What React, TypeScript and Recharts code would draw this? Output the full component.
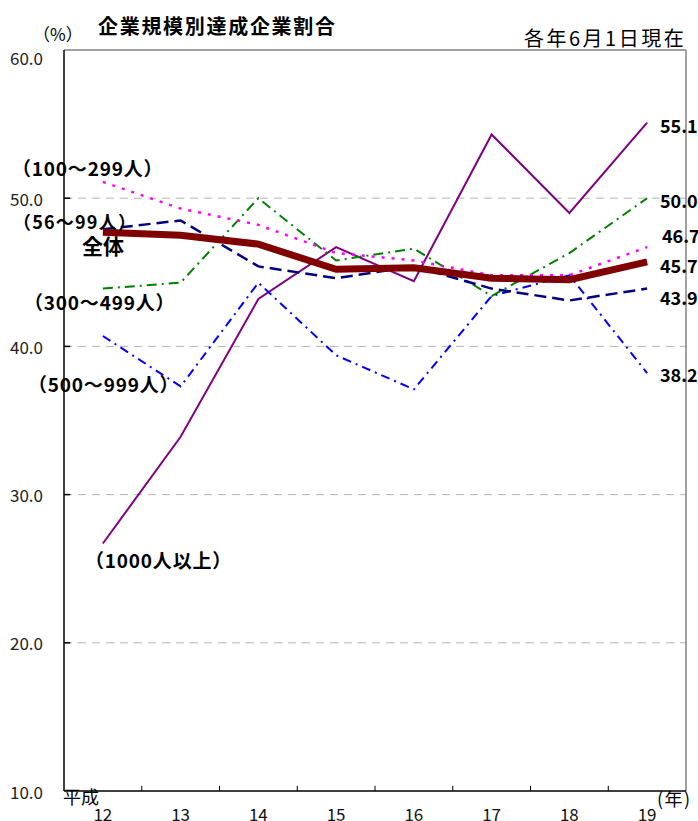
import * as React from "react";
import { LineChart, Line, XAxis, YAxis, ReferenceLine } from "recharts";

// 平成12〜19年
const YEARS = [12, 13, 14, 15, 16, 17, 18, 19];
const Y_TICKS = [10, 20, 30, 40, 50, 60];
const GRID_VALUES = [20, 30, 40, 50];
const BOUNDARY_TICKS = [12.5, 13.5, 14.5, 15.5, 16.5, 17.5, 18.5];

const TOTAL = [47.7, 47.5, 46.9, 45.2, 45.3, 44.6, 44.5, 45.7];
const SIZE_56_99 = [47.9, 48.5, 45.4, 44.6, 45.4, 43.9, 43.1, 43.9];
const SIZE_100_299 = [51.1, 49.3, 48.2, 46.3, 45.8, 44.8, 44.8, 46.7];
const SIZE_300_499 = [43.9, 44.3, 50.0, 45.8, 46.6, 43.4, 46.3, 50.0];
const SIZE_500_999 = [40.7, 37.3, 44.3, 39.4, 37.1, 43.4, 44.8, 38.2];
const SIZE_1000 = [26.7, 33.9, 43.2, 46.7, 44.4, 54.3, 49.0, 55.1];

const chartData = YEARS.map((year, i) => ({
  year,
  total: TOTAL[i],
  s56: SIZE_56_99[i],
  s100: SIZE_100_299[i],
  s300: SIZE_300_499[i],
  s500: SIZE_500_999[i],
  s1000: SIZE_1000[i],
}));

const FONT = "'Noto Sans CJK JP', 'Noto Sans', sans-serif";

type NoteProps = {
  x: number;
  y: number;
  size: number;
  bold?: boolean;
  spacing?: number;
  color?: string;
  children: React.ReactNode;
};

function Note({ x, y, size, bold, spacing, color, children }: NoteProps) {
  return (
    <div
      style={{
        position: "absolute",
        left: x,
        top: y,
        transform: "translateY(-50%)",
        fontFamily: FONT,
        fontSize: size,
        fontWeight: bold ? 700 : 400,
        letterSpacing: spacing ?? 0,
        color: color ?? "#000",
        lineHeight: 1,
        whiteSpace: "nowrap",
      }}
    >
      {children}
    </div>
  );
}

function YTick(props: any) {
  const { x, y, payload } = props;
  const dy = payload.value === 60 ? 7 : 0;
  return (
    <text
      x={x}
      y={y + dy}
      textAnchor="end"
      dominantBaseline="central"
      fontSize={17}
      fill="#222"
      fontFamily={FONT}
    >
      {Number(payload.value).toFixed(1)}
    </text>
  );
}

function XTick(props: any) {
  const { x, y, payload } = props;
  return (
    <text x={x} y={y + 30} textAnchor="middle" fontSize={17} fill="#111" fontFamily={FONT}>
      {payload.value}
    </text>
  );
}

export default function App() {
  return (
    <div
      style={{
        position: "absolute",
        left: 0,
        top: 0,
        width: 698,
        height: 821,
        background: "#fff",
        overflow: "hidden",
      }}
    >
      <LineChart
        width={698}
        height={821}
        data={chartData}
        margin={{ top: 50, right: 12, bottom: 0, left: 4 }}
      >
        <XAxis
          dataKey="year"
          type="number"
          domain={[11.5, 19.5]}
          ticks={YEARS}
          height={30}
          tickLine={false}
          tickSize={0}
          tickMargin={0}
          axisLine={{ stroke: "#000", strokeWidth: 1.5 }}
          tick={XTick}
          interval={0}
        />
        <YAxis
          type="number"
          domain={[10, 60]}
          ticks={Y_TICKS}
          width={60}
          tickLine={false}
          tickSize={0}
          tickMargin={21}
          axisLine={{ stroke: "#000", strokeWidth: 1.5 }}
          tick={YTick}
          interval={0}
        />

        {GRID_VALUES.map((v) => (
          <ReferenceLine
            key={`g${v}`}
            y={v}
            stroke="#b4b4b4"
            strokeDasharray="8 6"
            strokeWidth={1}
          />
        ))}
        <ReferenceLine y={60} stroke="#808080" strokeWidth={1.5} />
        <ReferenceLine x={19.5} stroke="#808080" strokeWidth={1.5} />

        {/* inward tick marks */}
        {BOUNDARY_TICKS.map((b) => (
          <ReferenceLine
            key={`bx${b}`}
            segment={[
              { x: b, y: 10 },
              { x: b, y: 10.35 },
            ]}
            stroke="#000"
            strokeWidth={1}
          />
        ))}
        {GRID_VALUES.map((v) => (
          <ReferenceLine
            key={`by${v}`}
            segment={[
              { x: 11.5, y: v },
              { x: 11.58, y: v },
            ]}
            stroke="#000"
            strokeWidth={1.5}
          />
        ))}

        <Line
          type="linear"
          dataKey="s1000"
          stroke="#800080"
          strokeWidth={2}
          dot={false}
          activeDot={false}
          isAnimationActive={false}
        />
        <Line
          type="linear"
          dataKey="s500"
          stroke="#0000ff"
          strokeWidth={2}
          strokeDasharray="9 5 2 5"
          dot={false}
          activeDot={false}
          isAnimationActive={false}
        />
        <Line
          type="linear"
          dataKey="s300"
          stroke="#008000"
          strokeWidth={2}
          strokeDasharray="10 5 2 5"
          dot={false}
          activeDot={false}
          isAnimationActive={false}
        />
        <Line
          type="linear"
          dataKey="s100"
          stroke="#ff00ff"
          strokeWidth={2.5}
          strokeDasharray="3 7"
          dot={false}
          activeDot={false}
          isAnimationActive={false}
        />
        <Line
          type="linear"
          dataKey="s56"
          stroke="#000080"
          strokeWidth={2.5}
          strokeDasharray="12 6"
          dot={false}
          activeDot={false}
          isAnimationActive={false}
        />
        <Line
          type="linear"
          dataKey="total"
          stroke="#800000"
          strokeWidth={7}
          dot={false}
          activeDot={false}
          isAnimationActive={false}
        />
      </LineChart>

      {/* headings */}
      <Note x={98} y={26} size={20} bold spacing={1.7}>
        企業規模別達成企業割合
      </Note>
      <Note x={33} y={33} size={17}>
        （%）
      </Note>
      <Note x={524} y={38} size={20} spacing={2.5}>
        各年6月1日現在
      </Note>
      <Note x={63} y={796} size={18}>
        平成
      </Note>
      <Note x={657} y={798} size={18} spacing={1.5}>
        (年)
      </Note>

      {/* series names */}
      <Note x={12} y={167} size={19} bold spacing={0.8}>
        （100～299人）
      </Note>
      <Note x={13} y={221} size={18} bold spacing={1.2}>
        （56～99人）
      </Note>
      <Note x={82} y={245} size={21} bold>
        全体
      </Note>
      <Note x={24} y={301} size={19} bold spacing={0.8}>
        （300～499人）
      </Note>
      <Note x={28} y={383} size={19} bold spacing={0.8}>
        （500～999人）
      </Note>
      <Note x={85} y={559} size={19} bold spacing={0.8}>
        （1000人以上）
      </Note>

      {/* last values */}
      <Note x={660} y={125} size={18} bold>
        55.1
      </Note>
      <Note x={660} y={200} size={18} bold>
        50.0
      </Note>
      <Note x={662} y={235} size={18} bold>
        46.7
      </Note>
      <Note x={660} y={265} size={18} bold>
        45.7
      </Note>
      <Note x={660} y={297} size={18} bold>
        43.9
      </Note>
      <Note x={660} y={374} size={18} bold>
        38.2
      </Note>
    </div>
  );
}
